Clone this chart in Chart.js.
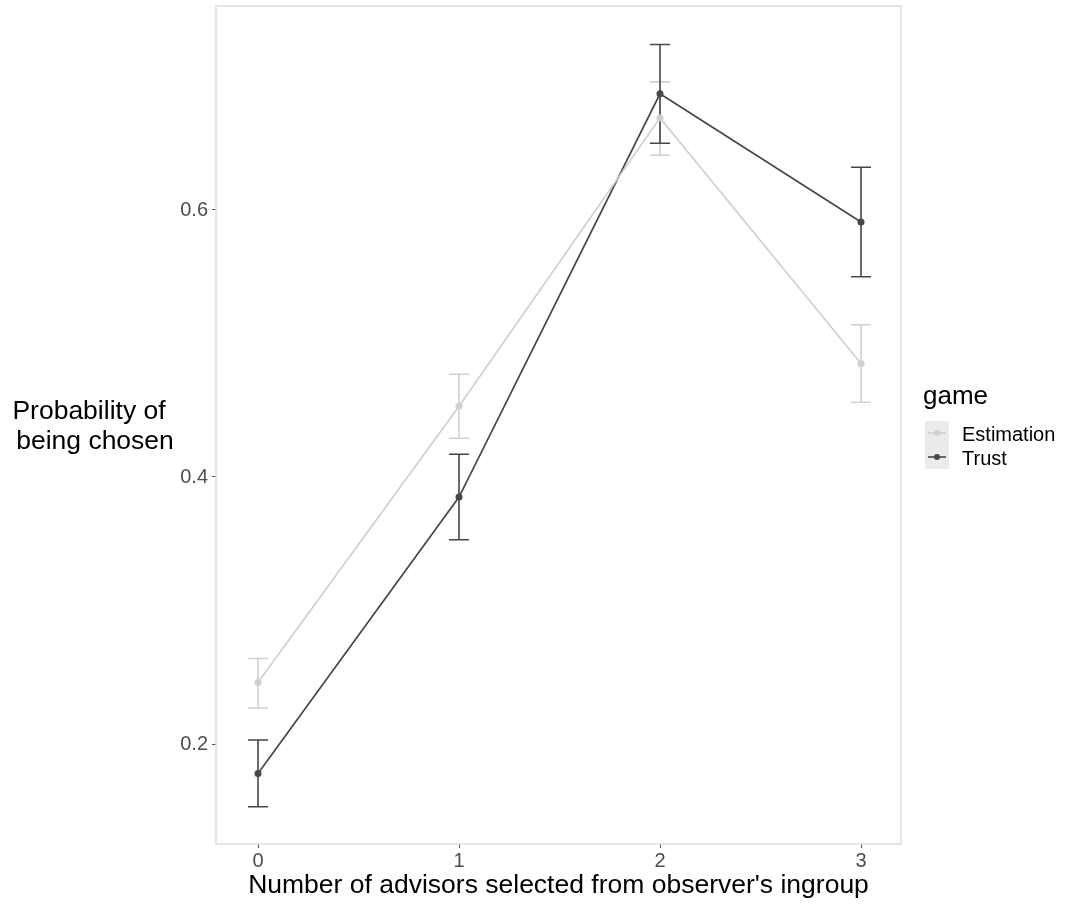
<!DOCTYPE html>
<html>
<head>
<meta charset="utf-8">
<script src="https://cdn.jsdelivr.net/npm/chart.js@4.4.1/dist/chart.umd.min.js"></script>
<style>
  html, body { margin: 0; padding: 0; background: #ffffff; }
  #wrap { width: 1068px; height: 905px; position: relative; }
</style>
</head>
<body>
<div id="wrap"><canvas id="c"></canvas></div>
<script>
// ---- data ----
const categories = [0, 1, 2, 3];
const seriesNames = ["Estimation", "Trust"];
const estimationMean  = [0.246, 0.453, 0.669, 0.485];
const estimationLower = [0.227, 0.429, 0.641, 0.456];
const estimationUpper = [0.264, 0.477, 0.696, 0.514];
const trustMean  = [0.178, 0.385, 0.687, 0.591];
const trustLower = [0.153, 0.353, 0.650, 0.550];
const trustUpper = [0.203, 0.417, 0.724, 0.632];
const xTickValues = [0, 1, 2, 3];
const yTickValues = [0.2, 0.4, 0.6];
const xAxisTitle = "Number of advisors selected from observer's ingroup";
const yAxisTitleLines = ["Probability of", "being chosen"];
const legendTitle = "game";

// ---- styles ----
const colEst = "#d0d0d0";
const colTrust = "#474747";
const FONT = "'Liberation Sans', Arial, Helvetica, sans-serif";

const toPoints = (ys) => categories.map((x, i) => ({ x: x, y: ys[i] }));

const errorBars = [
  { lower: estimationLower, upper: estimationUpper, color: colEst },
  { lower: trustLower, upper: trustUpper, color: colTrust }
];

const decorPlugin = {
  id: 'decor',
  beforeDatasetsDraw(chart) {
    const { ctx, chartArea: a, scales: { x, y } } = chart;
    ctx.save();
    // panel border
    ctx.strokeStyle = '#d9d9d9';
    ctx.lineWidth = 1.3;
    ctx.strokeRect(a.left, a.top, a.right - a.left, a.bottom - a.top);
    // error bars
    const halfW = 0.05;
    errorBars.forEach(eb => {
      ctx.strokeStyle = eb.color;
      ctx.lineWidth = 1.6;
      categories.forEach((c, i) => {
        const px = x.getPixelForValue(c);
        const pl = x.getPixelForValue(c - halfW);
        const pr = x.getPixelForValue(c + halfW);
        const yl = y.getPixelForValue(eb.lower[i]);
        const yu = y.getPixelForValue(eb.upper[i]);
        ctx.beginPath();
        ctx.moveTo(px, yl); ctx.lineTo(px, yu);
        ctx.moveTo(pl, yl); ctx.lineTo(pr, yl);
        ctx.moveTo(pl, yu); ctx.lineTo(pr, yu);
        ctx.stroke();
      });
    });
    ctx.restore();
  },
  afterDraw(chart) {
    const { ctx, chartArea: a } = chart;
    ctx.save();
    ctx.fillStyle = '#000';
    ctx.textBaseline = 'middle';
    ctx.textAlign = 'center';
    ctx.font = "26.5px " + FONT;
    // x title
    ctx.fillText(xAxisTitle, (a.left + a.right) / 2, 886);
    // y title (horizontal, two lines)
    ctx.fillText(yAxisTitleLines[0], 89, 412);
    ctx.fillText(yAxisTitleLines[1], 95, 442);
    // legend
    ctx.textAlign = 'left';
    ctx.font = "26px " + FONT;
    ctx.fillText(legendTitle, 923, 397);
    const keyX = 925, keyY = 421, keyS = 24;
    const cols = [colEst, colTrust];
    seriesNames.forEach((nm, i) => {
      const ky = keyY + i * keyS;
      ctx.fillStyle = '#ebebeb';
      ctx.fillRect(keyX, ky, keyS, keyS);
      ctx.strokeStyle = cols[i];
      ctx.lineWidth = 1.6;
      ctx.beginPath();
      ctx.moveTo(keyX + 3, ky + keyS / 2);
      ctx.lineTo(keyX + keyS - 3, ky + keyS / 2);
      ctx.stroke();
      ctx.fillStyle = cols[i];
      ctx.beginPath();
      ctx.arc(keyX + keyS / 2, ky + keyS / 2, 3, 0, Math.PI * 2);
      ctx.fill();
      ctx.fillStyle = '#000';
      ctx.font = "20px " + FONT;
      ctx.fillText(nm, 962, ky + keyS / 2 + 2);
    });
    ctx.restore();
  }
};

new Chart(document.getElementById('c'), {
  type: 'scatter',
  data: {
    datasets: [
      {
        label: seriesNames[0],
        data: toPoints(estimationMean),
        showLine: true,
        borderColor: colEst,
        backgroundColor: colEst,
        borderWidth: 1.7,
        pointRadius: 3.5,
        pointBorderWidth: 0,
        pointHoverRadius: 3.5
      },
      {
        label: seriesNames[1],
        data: toPoints(trustMean),
        showLine: true,
        borderColor: colTrust,
        backgroundColor: colTrust,
        borderWidth: 1.7,
        pointRadius: 3.5,
        pointBorderWidth: 0,
        pointHoverRadius: 3.5
      }
    ]
  },
  options: {
    responsive: true,
    maintainAspectRatio: false,
    animation: false,
    events: [],
    layout: { padding: { top: 6, right: 167, left: 0, bottom: 0 } },
    plugins: { legend: { display: false }, tooltip: { enabled: false } },
    scales: {
      x: {
        type: 'linear',
        min: -0.209,
        max: 3.199,
        afterBuildTicks: (s) => { s.ticks = xTickValues.map(v => ({ value: v })); },
        afterFit: (s) => { s.height = 61; s.paddingLeft = 0; s.paddingRight = 0; },
        grid: { drawOnChartArea: false, drawTicks: true, tickLength: 4, color: '#555', lineWidth: 1 },
        border: { display: false },
        ticks: { color: '#4d4d4d', font: { family: FONT, size: 20 }, padding: 1, maxRotation: 0,
                 callback: (v) => String(v) }
      },
      y: {
        type: 'linear',
        min: 0.1251,
        max: 0.7528,
        afterBuildTicks: (s) => { s.ticks = yTickValues.map(v => ({ value: v })); },
        afterFit: (s) => { s.width = 216; s.paddingTop = 0; s.paddingBottom = 0; },
        grid: { drawOnChartArea: false, drawTicks: true, tickLength: 4, color: '#555', lineWidth: 1 },
        border: { display: false },
        ticks: { color: '#4d4d4d', font: { family: FONT, size: 20 }, padding: 4,
                 callback: (v) => v.toFixed(1) }
      }
    }
  },
  plugins: [decorPlugin]
});
</script>
</body>
</html>
